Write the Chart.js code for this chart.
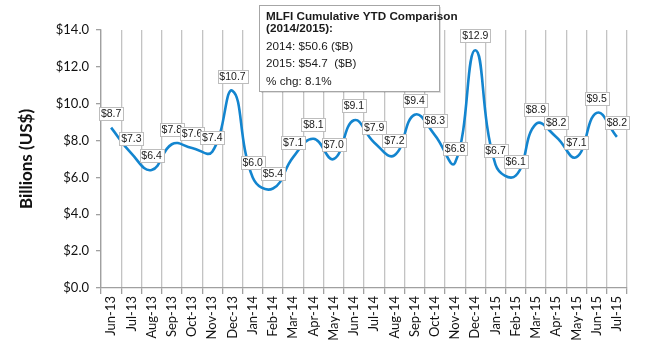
<!DOCTYPE html>
<html>
<head>
<meta charset="utf-8">
<script src="https://cdn.jsdelivr.net/npm/chart.js@4"></script>
<style>
html,body{margin:0;padding:0;background:#fff;}
#wrap{width:650px;height:350px;position:relative;}
</style>
</head>
<body>
<div id="wrap"><canvas id="c" width="650" height="350"></canvas></div>
<script>
const months = ['Jun-13','Jul-13','Aug-13','Sep-13','Oct-13','Nov-13','Dec-13','Jan-14','Feb-14','Mar-14','Apr-14','May-14','Jun-14','Jul-14','Aug-14','Sep-14','Oct-14','Nov-14','Dec-14','Jan-15','Feb-15','Mar-15','Apr-15','May-15','Jun-15','Jul-15'];
const values = [8.7,7.3,6.4,7.8,7.6,7.4,10.7,6.0,5.4,7.1,8.1,7.0,9.1,7.9,7.2,9.4,8.3,6.8,12.9,6.7,6.1,8.9,8.2,7.1,9.5,8.2];
const yTicks = [0,2,4,6,8,10,12,14];
const axisTitle = 'Billions (US$)';
const noteLines = ['MLFI Cumulative YTD Comparison','(2014/2015):','2014: $50.6 ($B)','2015: $54.7  ($B)','% chg: 8.1%'];
const noteBold = [true,true,false,false,false];

const labelPlugin = {
  id:'valLabels',
  afterDatasetsDraw(chart){
    const ctx = chart.ctx;
    const meta = chart.getDatasetMeta(0);
    ctx.save();
    ctx.font = '10.5px "Liberation Sans", Arial, sans-serif';
    ctx.textAlign = 'center';
    ctx.textBaseline = 'middle';
    meta.data.forEach((pt,i)=>{
      const txt = '$' + values[i].toFixed(1);
      const w = Math.round(ctx.measureText(txt).width + 4);
      const h = 13;
      const cx = pt.x, bottom = pt.y - 8;
      const bx = Math.round(cx - w/2) + 0.5, by = Math.round(bottom - h) + 0.5;
      ctx.fillStyle = '#fff';
      ctx.fillRect(bx, by, w, h);
      ctx.strokeStyle = '#bdbdbd';
      ctx.lineWidth = 1;
      ctx.strokeRect(bx, by, w, h);
      ctx.fillStyle = '#1a1a1a';
      ctx.fillText(txt, cx, by + h/2 + 0.5);
    });
    ctx.restore();
  },
  afterDraw(chart){
    const ctx = chart.ctx;
    ctx.save();
    const x = 259, y = 5, w = 180, h = 86;
    ctx.fillStyle = 'rgba(0,0,0,0.12)';
    ctx.fillRect(x+2, y+2, w, h);
    ctx.fillStyle = '#fff';
    ctx.fillRect(x+0.5, y+0.5, w, h);
    ctx.strokeStyle = '#a6a6a6';
    ctx.lineWidth = 1;
    ctx.strokeRect(x+0.5, y+0.5, w, h);
    const ys = [17,29,47,64,82];
    ctx.textAlign = 'left';
    ctx.textBaseline = 'middle';
    ctx.fillStyle = '#1a1a1a';
    noteLines.forEach((t,i)=>{
      ctx.font = (noteBold[i] ? 'bold ' : '') + '11.7px "Liberation Sans", Arial, sans-serif';
      ctx.fillText(t, 266, ys[i]);
    });
    ctx.restore();
  }
};

new Chart(document.getElementById('c'), {
  type:'line',
  data:{
    labels: months,
    datasets:[{
      data: values,
      borderColor:'#1385cf',
      borderWidth:2.6,
      pointRadius:0,
      tension:0.45,
      fill:false
    }]
  },
  options:{
    responsive:false,
    animation:false,
    events:[],
    layout:{padding:{top:30,right:23,bottom:0,left:0}},
    plugins:{legend:{display:false},tooltip:{enabled:false}},
    scales:{
      x:{
        offset:true,
        grid:{
          offset:true,
          display:true,
          drawOnChartArea:true,
          drawTicks:true,
          tickLength:6,
          color:(c)=> (c.index === months.length ? 'rgba(0,0,0,0)' : '#c3c3c3'),
          tickColor:(c)=> (c.index === months.length ? 'rgba(0,0,0,0)' : '#a0a0a0'),
          lineWidth:1.3
        },
        border:{color:'#a0a0a0',width:1.3},
        ticks:{
          autoSkip:false,
          minRotation:90,maxRotation:90,
          padding:2,
          color:'#111',
          font:{family:'Lato, "Liberation Sans", sans-serif',size:13}
        },
        afterFit:(s)=>{s.height = 62;}
      },
      y:{
        min:0,max:14,
        afterBuildTicks:(s)=>{ s.ticks = yTicks.map(v=>({value:v})); },
        grid:{display:true,drawOnChartArea:false,drawTicks:true,tickLength:5,color:'#a0a0a0',tickColor:'#a0a0a0',lineWidth:1.3},
        border:{color:'#a0a0a0',width:1.3},
        ticks:{
          padding:7,
          color:'#111',
          font:{family:'Lato, "Liberation Sans", sans-serif',size:13},
          callback:(v)=>'$' + Number(v).toFixed(1)
        },
        title:{
          display:true,
          text:axisTitle,
          color:'#111',
          font:{family:'Lato, "Liberation Sans", sans-serif',size:17,weight:'bold'},
          padding:{top:16,bottom:0}
        },
        afterFit:(s)=>{s.width = 101;}
      }
    }
  },
  plugins:[labelPlugin]
});
</script>
</body>
</html>
